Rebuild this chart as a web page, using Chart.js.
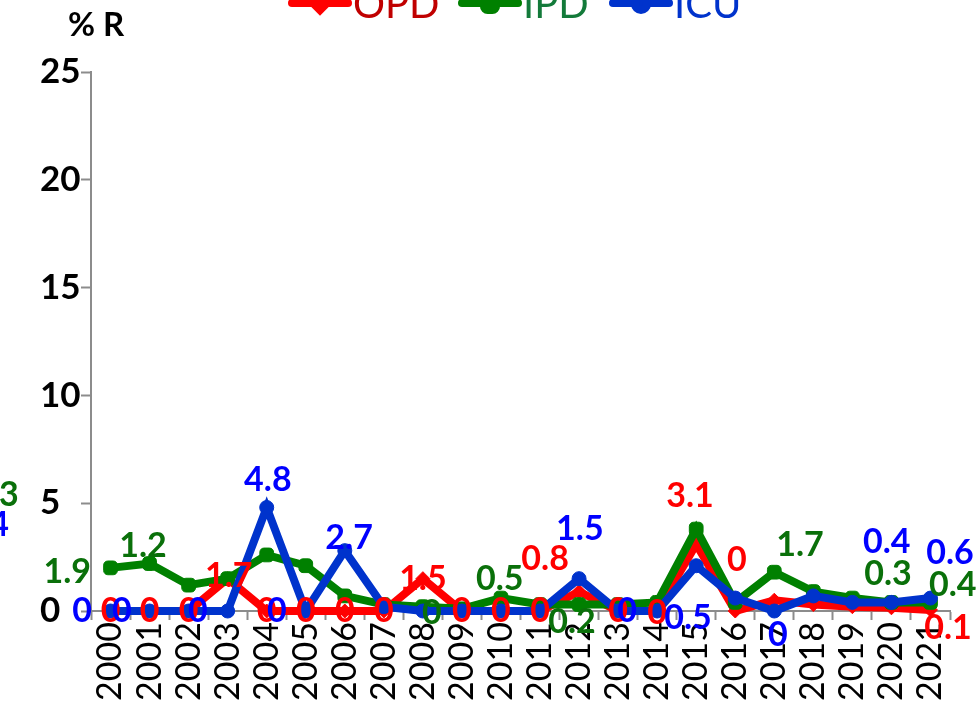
<!DOCTYPE html>
<html>
<head>
<meta charset="utf-8">
<script src="https://cdn.jsdelivr.net/npm/chart.js@4.4.1/dist/chart.umd.min.js"></script>
<style>
html,body{margin:0;padding:0;background:#fff;}
#wrap{width:980px;height:707px;position:relative;}
</style>
</head>
<body>
<div id="wrap"><canvas id="c"></canvas></div>
<script>
'use strict';
const YEARS=['2000','2001','2002','2003','2004','2005','2006','2007','2008','2009','2010','2011','2012','2013','2014','2015','2016','2017','2018','2019','2020','2021'];
const OPD=[0,0,0,1.5,0,0,0,0,1.5,0,0,0,0.9,0,0,3.1,0,0.5,0.3,0.2,0.15,0.05];
const IPD=[2.0,2.2,1.2,1.5,2.6,2.1,0.7,0.3,0.2,0.1,0.6,0.3,0.3,0.3,0.4,3.8,0.4,1.8,0.9,0.6,0.4,0.4];
const ICU=[0,0,0,0,4.8,0,2.8,0.2,0,0,0,0,1.5,0,0,2.1,0.6,0,0.7,0.4,0.4,0.6];
// data labels as they sit in the picture: [category index, value, text]
const OPD_LABELS=[[0,0,'0'],[1,0,'0'],[2,0,'0'],[3.03,1.62,'1.7'],[4,0,'0'],[5,0,'0'],[6,0,'0'],[7,0,'0'],[8,1.48,'1.5'],[9,0,'0'],[10,0,'0'],[11,0,'0'],[11.13,2.41,'0.8'],[13,0,'0'],[14,-0.1,'0'],[14.84,5.33,'3.1'],[16.04,2.37,'0'],[21.45,-0.79,'0.1']];
const IPD_LABELS=[[-2.96,5.38,'1.3'],[-1.11,1.81,'1.9'],[0.83,3.01,'1.2'],[8.23,-0.1,'0'],[9.97,1.48,'0.5'],[11.82,-0.51,'0.2'],[17.66,3.06,'1.7'],[19.91,1.72,'0.3'],[21.57,1.21,'0.4']];
const ICU_LABELS=[[-3.21,3.99,'0.4'],[-0.73,0,'0'],[0.29,0,'0'],[2.24,0,'0'],[4.26,0,'0'],[4.03,6.08,'4.8'],[6.11,3.39,'2.7'],[12.02,3.8,'1.5'],[13.23,0,'0'],[14.79,-0.32,'0.5'],[17.09,-1.11,'0'],[19.88,3.2,'0.4'],[21.5,2.69,'0.6']];
const Y_TICKS=[0,5,10,15,20,25];

const RED='#ff0000',GREEN='#008000',BLUE='#0033cc';
const SERIES=[
  {name:'OPD',data:OPD,line:RED,label:'#ff0000',legend:'#c00000',style:'rectRot',r:7,labels:OPD_LABELS,lx:292},
  {name:'IPD',data:IPD,line:GREEN,label:'#0a700a',legend:'#137a3a',style:'rectRounded',r:8,labels:IPD_LABELS,lx:462},
  {name:'ICU',data:ICU,line:BLUE,label:'#0000ff',legend:'#0033cc',style:'circle',r:7,labels:ICU_LABELS,lx:613}
];

const labelPlugin={id:'dataLabels',afterDatasetsDraw(chart){
  const {ctx,scales:{x,y}}=chart;
  ctx.save();ctx.font='bold 34px Lato';ctx.textAlign='center';ctx.textBaseline='middle';
  SERIES.forEach(s=>{ctx.fillStyle=s.label;s.labels.forEach(([i,v,t])=>ctx.fillText(t,x.getPixelForValue(i),y.getPixelForValue(v)));});
  ctx.restore();
}};
const extrasPlugin={id:'extras',afterDraw(chart){
  const ctx=chart.ctx;
  ctx.save();
  ctx.fillStyle='#000';ctx.font='bold 33px Lato';ctx.textAlign='left';ctx.textBaseline='middle';
  ctx.fillText('% R',68,25);
  // legend, partly cut at the top as in the reference
  SERIES.forEach(s=>{
    ctx.strokeStyle=s.line;ctx.fillStyle=s.line;ctx.lineWidth=8;ctx.lineCap='round';
    ctx.beginPath();ctx.moveTo(s.lx,3);ctx.lineTo(s.lx+56,3);ctx.stroke();
    Chart.helpers.drawPoint(ctx,{pointStyle:s.style,radius:s.r-1,rotation:0,borderWidth:1},s.lx+28,4);
    ctx.fillStyle=s.legend;ctx.font='40px Lato';ctx.textBaseline='alphabetic';
    ctx.fillText(s.name,s.lx+61,18);
  });
  ctx.restore();
}};

new Chart(document.getElementById('c'),{
  type:'line',
  data:{labels:YEARS,datasets:SERIES.map((s,k)=>({
    label:s.name,data:s.data,borderColor:s.line,backgroundColor:s.line,borderWidth:8,
    pointStyle:s.style,pointRadius:s.r,pointBorderWidth:1,tension:0,clip:false,order:2-k
  }))},
  options:{
    responsive:true,maintainAspectRatio:false,animation:false,
    layout:{padding:{top:72,right:30,left:40,bottom:0}},
    plugins:{legend:{display:false},tooltip:{enabled:false}},
    scales:{
      x:{offset:true,
        afterFit(sc){sc.height=96;},
        grid:{drawOnChartArea:false,offset:true,tickLength:9,tickColor:'#8c8c8c',tickWidth:2},
        border:{color:'#8c8c8c',width:2},
        ticks:{autoSkip:false,maxRotation:90,minRotation:90,color:'#000',font:{family:'Lato',size:34},padding:2}},
      y:{min:0,max:25,
        afterFit(sc){sc.width=51;},
        afterBuildTicks(sc){sc.ticks=Y_TICKS.map(v=>({value:v}));},
        grid:{drawOnChartArea:false,tickLength:10,tickColor:'#8c8c8c',tickWidth:2},
        border:{color:'#8c8c8c',width:2},
        ticks:{crossAlign:'far',color:'#000',font:{family:'Lato',size:35,weight:'bold'},padding:2}}
    }
  },
  plugins:[labelPlugin,extrasPlugin]
});
</script>
</body>
</html>
